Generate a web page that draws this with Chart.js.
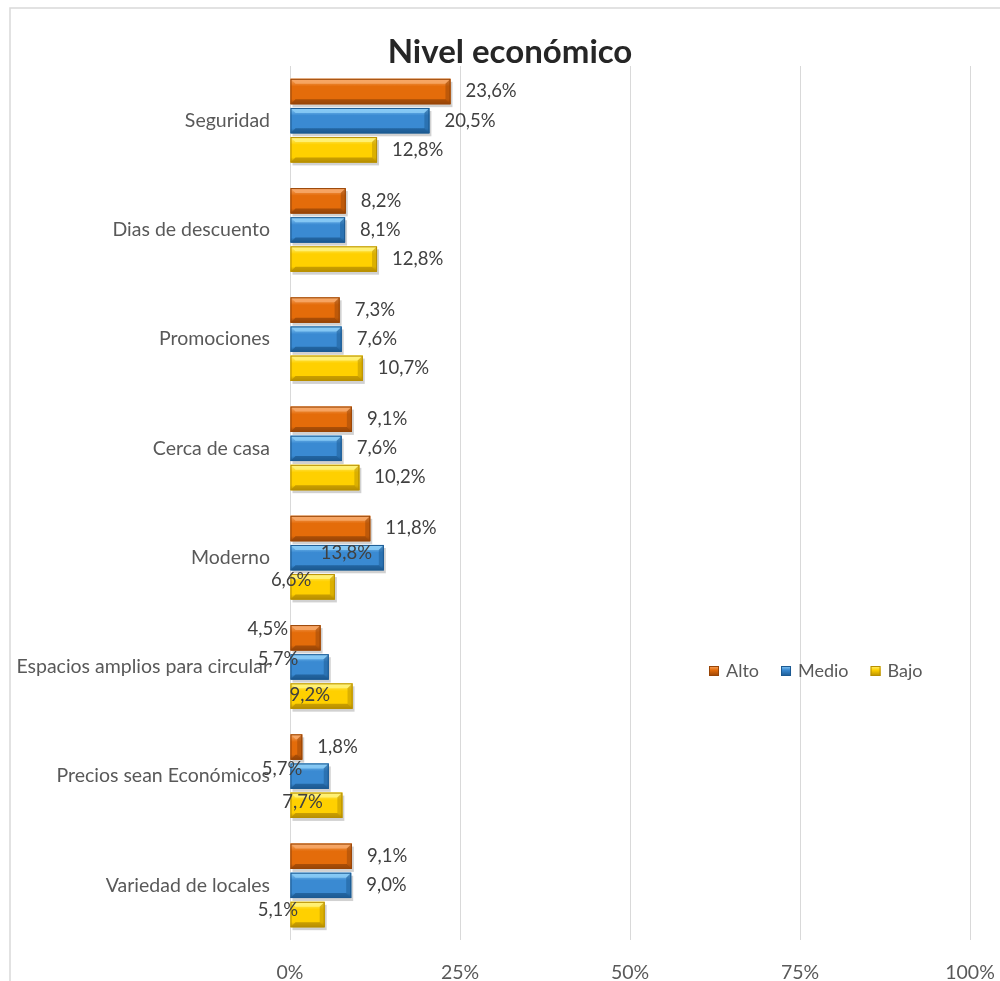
<!DOCTYPE html>
<html>
<head>
<meta charset="utf-8">
<title>Nivel económico</title>
<script src="https://cdn.jsdelivr.net/npm/chart.js@4.4.1/dist/chart.umd.min.js"></script>
<style>
    html, body { margin: 0; padding: 0; background: #fff; }
    #wrap { width: 1000px; height: 981px; position: relative; }
</style>
</head>
<body>
<div id="wrap"><canvas id="myChart" width="1000" height="981"></canvas></div>
<script>
// datos
const categories = [
    "Seguridad",
    "Dias de descuento",
    "Promociones",
    "Cerca de casa",
    "Moderno",
    "Espacios amplios para circular",
    "Precios sean Económicos",
    "Variedad de locales",
];
const seriesNames = ["Alto", "Medio", "Bajo"];
const alto = [23.6, 8.2, 7.3, 9.1, 11.8, 4.5, 1.8, 9.1];
const medio = [20.5, 8.1, 7.6, 7.6, 13.8, 5.7, 5.7, 9.0];
const bajo = [12.8, 12.8, 10.7, 10.2, 6.6, 9.2, 7.7, 5.1];
const xTicks = [0, 25, 50, 75, 100];

const FONT = "Lato, 'Noto Sans', sans-serif";

// colores: [principal, claro, oscuro]
const palette = [
    ["#E46C0A", "#F7A868", "#984507"],
    ["#3A8AD2", "#8ACBF6", "#1C5A92"],
    ["#FFD000", "#FFF27A", "#B88F00"],
];

// etiquetas que Excel movió (dataset-index): [dx, dy]
const labelShift = {
    "1-4": [-63, -5],
    "2-4": [-64, -7],
    "0-5": [-73, -9],
    "1-5": [-71, -8],
    "2-5": [-63, -1],
    "1-6": [-67, -7],
    "2-6": [-60, -3],
    "2-7": [-67, -4],
};

function fmt(v) {
    return v.toFixed(1).replace(".", ",") + "%";
}

// marco del gráfico + título
const framePlugin = {
    id: "frame",
    beforeDraw(chart) {
        const c = chart.ctx;
        c.save();
        c.fillStyle = "#fff";
        c.fillRect(0, 0, chart.width, chart.height);
        c.strokeStyle = "#d9d9d9";
        c.lineWidth = 1.5;
        c.strokeRect(10, 8, 1100, 1100);
        c.restore();
    },
    afterDraw(chart) {
        const c = chart.ctx;
        c.save();
        c.fillStyle = "#262626";
        c.font = "bold 33px " + FONT;
        c.textAlign = "center";
        c.textBaseline = "middle";
        c.fillText("Nivel económico", 510, 52);
        c.restore();
    },
};

// efecto bisel de las barras
const bevelPlugin = {
    id: "bevel",
    afterDatasetsDraw(chart) {
        const c = chart.ctx;
        chart.data.datasets.forEach((ds, di) => {
            const [main, light, dark] = palette[di];
            chart.getDatasetMeta(di).data.forEach((bar) => {
                const { x, y, base, height } = bar.getProps(["x", "y", "base", "height"], true);
                const l = Math.min(base, x), r = Math.max(base, x);
                const t = y - height / 2, b = y + height / 2;
                const e = Math.min(5, (r - l) / 2);
                c.save();
                // sombra
                c.fillStyle = "rgba(0,0,0,0.18)";
                c.fillRect(l + 2, t + 3, r - l, b - t);
                const g = c.createLinearGradient(0, t, 0, b);
                g.addColorStop(0, light);
                g.addColorStop(0.3, main);
                g.addColorStop(0.8, main);
                g.addColorStop(1, dark);
                c.fillStyle = g;
                c.fillRect(l, t, r - l, b - t);
                // borde superior claro
                c.fillStyle = light;
                c.globalAlpha = 0.85;
                c.beginPath();
                c.moveTo(l, t); c.lineTo(r, t); c.lineTo(r - e, t + e); c.lineTo(l + e, t + e);
                c.closePath(); c.fill();
                // borde inferior oscuro
                c.fillStyle = dark;
                c.globalAlpha = 0.75;
                c.beginPath();
                c.moveTo(l, b); c.lineTo(r, b); c.lineTo(r - e, b - e); c.lineTo(l + e, b - e);
                c.closePath(); c.fill();
                // lado derecho
                c.globalAlpha = 0.5;
                c.beginPath();
                c.moveTo(r, t); c.lineTo(r, b); c.lineTo(r - e, b - e); c.lineTo(r - e, t + e);
                c.closePath(); c.fill();
                c.globalAlpha = 1;
                c.strokeStyle = dark;
                c.lineWidth = 1;
                c.strokeRect(l + 0.5, t + 0.5, r - l - 1, b - t - 1);
                c.restore();
            });
        });
    },
};

// etiquetas de datos + leyenda
const labelPlugin = {
    id: "labels",
    afterDraw(chart) {
        const c = chart.ctx;
        c.save();
        c.font = "18.5px " + FONT;
        c.textBaseline = "middle";
        c.textAlign = "left";
        c.fillStyle = "#404040";
        chart.data.datasets.forEach((ds, di) => {
            chart.getDatasetMeta(di).data.forEach((bar, i) => {
                const shift = labelShift[di + "-" + i] || [15, 0];
                c.fillText(fmt(ds.data[i]), bar.x + shift[0], bar.y + shift[1]);
            });
        });

        // leyenda
        c.font = "18px " + FONT;
        let lx = 709;
        const ly = 671;
        chart.data.datasets.forEach((ds, di) => {
            const [main, light, dark] = palette[di];
            const g = c.createLinearGradient(0, ly - 5, 0, ly + 5);
            g.addColorStop(0, light);
            g.addColorStop(0.4, main);
            g.addColorStop(1, dark);
            c.fillStyle = g;
            c.fillRect(lx, ly - 5, 10, 10);
            c.strokeStyle = dark;
            c.strokeRect(lx + 0.5, ly - 4.5, 9, 9);
            c.fillStyle = "#595959";
            c.fillText(ds.label, lx + 17, ly);
            lx += 17 + c.measureText(ds.label).width + 22;
        });
        c.restore();
    },
};

const ctx = document.getElementById("myChart").getContext("2d");
const myChart = new Chart(ctx, {
    type: "bar",
    data: {
        labels: categories,
        datasets: [alto, medio, bajo].map((vals, di) => ({
            label: seriesNames[di],
            data: vals,
            backgroundColor: palette[di][0],
            borderWidth: 0,
            categoryPercentage: 0.8,
            barPercentage: 0.87,
        })),
    },
    options: {
        indexAxis: "y",
        responsive: false,
        animation: false,
        layout: { padding: { top: 66, right: 30, left: 0, bottom: 0 } },
        scales: {
            x: {
                min: 0,
                max: 100,
                afterBuildTicks: (scale) => {
                    scale.ticks = xTicks.map((v) => ({ value: v }));
                },
                afterFit: (scale) => {
                    scale.height = 41;
                    scale.paddingLeft = 0;
                    scale.paddingRight = 0;
                },
                grid: { color: "#d9d9d9", lineWidth: 1, drawTicks: false },
                border: { display: false },
                ticks: {
                    padding: 21,
                    color: "#595959",
                    font: { family: FONT, size: 19.5 },
                    callback: (v) => v + "%",
                },
            },
            y: {
                afterFit: (scale) => {
                    scale.width = 290;
                    scale.paddingTop = 0;
                    scale.paddingBottom = 0;
                },
                grid: { display: false, drawTicks: false },
                border: { display: false },
                ticks: {
                    padding: 20,
                    color: "#595959",
                    font: { family: FONT, size: 19.5 },
                },
            },
        },
        plugins: {
            legend: { display: false },
            tooltip: { enabled: false },
        },
    },
    plugins: [framePlugin, bevelPlugin, labelPlugin],
});
</script>
</body>
</html>
